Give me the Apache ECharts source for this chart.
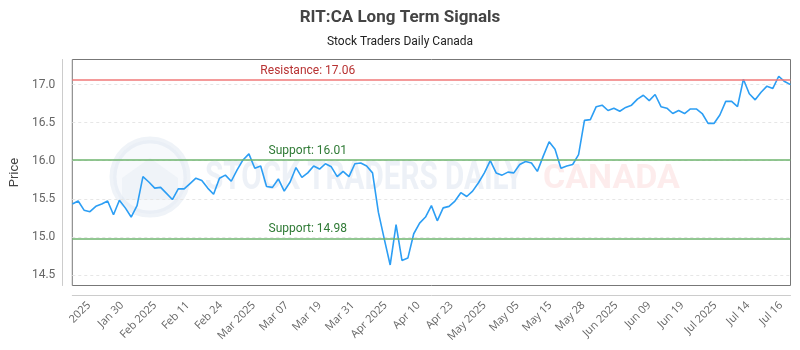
<!DOCTYPE html>
<html lang="en">
	<head>
		<meta charset="UTF-8" />
		<title>RIT:CA Long Term Signals</title>
		<style>
			html, body { margin: 0; padding: 0; background: #fff; }
		</style>
	</head>
	<body>
		<div id="main" style="width: 800px; height: 350px"></div>
		<script src="https://cdn.jsdelivr.net/npm/echarts@6/dist/echarts.min.js"></script>
		<script>
			// trading days shown on the chart
			var dates = [
				"2025-01-22", "2025-01-23", "2025-01-24", "2025-01-27", "2025-01-28", "2025-01-29", "2025-01-30", "2025-01-31",
				"2025-02-03", "2025-02-04", "2025-02-05", "2025-02-06", "2025-02-07", "2025-02-10", "2025-02-11", "2025-02-12",
				"2025-02-13", "2025-02-14", "2025-02-18", "2025-02-19", "2025-02-20", "2025-02-21", "2025-02-24", "2025-02-25",
				"2025-02-26", "2025-02-27", "2025-02-28",
				"2025-03-03", "2025-03-04", "2025-03-05", "2025-03-06", "2025-03-07", "2025-03-10", "2025-03-11", "2025-03-12",
				"2025-03-13", "2025-03-14", "2025-03-17", "2025-03-18", "2025-03-19", "2025-03-20", "2025-03-21", "2025-03-24",
				"2025-03-25", "2025-03-26", "2025-03-27", "2025-03-28", "2025-03-31",
				"2025-04-01", "2025-04-02", "2025-04-03", "2025-04-04", "2025-04-07", "2025-04-08", "2025-04-09", "2025-04-10",
				"2025-04-11", "2025-04-14", "2025-04-15", "2025-04-16", "2025-04-17", "2025-04-21", "2025-04-22", "2025-04-23",
				"2025-04-24", "2025-04-25", "2025-04-28", "2025-04-29", "2025-04-30",
				"2025-05-01", "2025-05-02", "2025-05-05", "2025-05-06", "2025-05-07", "2025-05-08", "2025-05-09", "2025-05-12",
				"2025-05-13", "2025-05-14", "2025-05-15", "2025-05-16", "2025-05-20", "2025-05-21", "2025-05-22", "2025-05-23",
				"2025-05-26", "2025-05-27", "2025-05-28", "2025-05-29", "2025-05-30",
				"2025-06-02", "2025-06-03", "2025-06-04", "2025-06-05", "2025-06-06", "2025-06-09", "2025-06-10", "2025-06-11",
				"2025-06-12", "2025-06-13", "2025-06-16", "2025-06-17", "2025-06-18", "2025-06-19", "2025-06-20", "2025-06-23",
				"2025-06-24", "2025-06-25", "2025-06-26", "2025-06-27", "2025-06-30",
				"2025-07-02", "2025-07-03", "2025-07-04", "2025-07-07", "2025-07-08", "2025-07-09", "2025-07-10", "2025-07-11",
				"2025-07-14", "2025-07-15", "2025-07-16", "2025-07-17",
			];

			// closing prices
			var prices = [
				15.43, 15.47, 15.35, 15.33, 15.40, 15.43, 15.47, 15.29, 15.48, 15.38,
				15.26, 15.41, 15.79, 15.72, 15.64, 15.65, 15.57, 15.49, 15.63, 15.63,
				15.70, 15.77, 15.74, 15.64, 15.56, 15.77, 15.81, 15.73, 15.88, 16.01,
				16.09, 15.90, 15.93, 15.66, 15.65, 15.76, 15.60, 15.72, 15.91, 15.78,
				15.84, 15.93, 15.89, 15.96, 15.92, 15.79, 15.86, 15.79, 15.96, 15.97,
				15.93, 15.84, 15.32, 14.97, 14.63, 15.16, 14.69, 14.72, 15.04, 15.18,
				15.26, 15.41, 15.21, 15.38, 15.40, 15.47, 15.58, 15.53, 15.60, 15.71,
				15.84, 16.00, 15.84, 15.81, 15.85, 15.84, 15.95, 15.99, 15.97, 15.86,
				16.06, 16.25, 16.15, 15.90, 15.93, 15.95, 16.08, 16.53, 16.54, 16.71,
				16.73, 16.66, 16.69, 16.65, 16.70, 16.73, 16.81, 16.86, 16.79, 16.87,
				16.71, 16.69, 16.62, 16.66, 16.62, 16.68, 16.68, 16.62, 16.49, 16.49,
				16.60, 16.78, 16.78, 16.71, 17.07, 16.88, 16.80, 16.90, 16.98, 16.95,
				17.11, 17.04, 17.00,
			];

			// x axis labels as printed under the chart
			var tickLabels = [
				"2025", "Jan 30", "Feb 2025", "Feb 11", "Feb 24", "Mar 2025", "Mar 07", "Mar 19",
				"Mar 31", "Apr 2025", "Apr 10", "Apr 23", "May 2025", "May 05", "May 15", "May 28",
				"Jun 2025", "Jun 09", "Jun 19", "Jul 2025", "Jul 14", "Jul 16",
			];

			// signal levels
			var resistance = 17.06;
			var supports = [16.01, 14.98];

			var myChart = echarts.init(document.getElementById("main"));

			var labelSpan = 80; // index span the level labels are centred on

			function levelLines() {
				var red = "rgba(240, 120, 120, 0.75)";
				var green = "rgba(110, 180, 110, 0.75)";
				var out = [];
				var levels = [{ v: resistance, txt: "Resistance: ", line: red, col: "#b83232" }];
				supports.forEach(function (s) {
					levels.push({ v: s, txt: "Support: ", line: green, col: "#2f7a35" });
				});
				levels.forEach(function (l) {
					out.push({
						yAxis: l.v,
						lineStyle: { color: l.line, width: 2, type: "solid" },
						label: { show: false },
					});
					var lab = {
						show: true,
						position: "insideMiddleTop",
						distance: 3,
						formatter: l.txt + l.v.toFixed(2),
						color: l.col,
						fontSize: 12,
						fontFamily: "Roboto",
					};
					var hidden = { color: "rgba(0,0,0,0)", width: 0 };
					out.push([
						{ coord: [0, l.v], lineStyle: hidden, label: lab },
						{ coord: [labelSpan, l.v], lineStyle: hidden, label: lab },
					]);
				});
				return out;
			}

			var option = {
				animation: false,
				title: [
					{
						text: "RIT:CA Long Term Signals",
						left: "center",
						top: 4,
						textStyle: { fontSize: 17, fontWeight: "bold", color: "#444", fontFamily: "Roboto" },
					},
					{
						text: "Stock Traders Daily Canada",
						left: "center",
						top: 31,
						textStyle: { fontSize: 12, fontWeight: "normal", color: "#222", fontFamily: "Roboto" },
					},
				],
				graphic: [
					// faint watermark behind the plot
					{
						type: "circle",
						z: -10,
						shape: { cx: 150, cy: 177, r: 37 },
						style: { fill: "rgba(228, 234, 244, 0.3)", stroke: "rgba(215, 224, 238, 0.4)", lineWidth: 7 },
					},
					{
						type: "polygon",
						z: -10,
						shape: { points: [[122, 200], [122, 178], [150, 158], [178, 178], [178, 200]] },
						style: { fill: "rgba(220, 228, 240, 0.3)" },
					},
					{
						type: "text",
						z: -10,
						left: 205,
						top: 160,
						scaleX: 0.78,
						style: {
							text: "STOCK TRADERS DAILY",
							font: "bold 38px Roboto",
							fill: "rgba(215, 224, 238, 0.45)",
						},
					},
					{
						type: "text",
						z: -10,
						left: 543,
						top: 162,
						style: {
							text: "CANADA",
							font: "bold 34px Roboto",
							fill: "rgba(250, 200, 200, 0.35)",
						},
					},
				],
				grid: [
					{ left: 69.5, right: 9.5, top: 59.5, bottom: 64.5, show: true, borderColor: "#777", borderWidth: 1 },
					{ left: 72.5, right: 2.5, top: 59.5, bottom: 64.5 },
				],
				xAxis: [
					{
						type: "category",
						gridIndex: 0,
						data: dates,
						boundaryGap: false,
						offset: 10,
						axisLine: { show: true, lineStyle: { color: "#ccc" } },
						axisTick: { show: false },
						axisLabel: { show: false },
						splitLine: { show: false },
					},
					{
						type: "category",
						gridIndex: 1,
						data: tickLabels,
						boundaryGap: true,
						offset: 10,
						axisLine: { show: false },
						axisTick: { show: false },
						axisLabel: {
							interval: 0,
							rotate: 45,
							margin: 8,
							fontSize: 11,
							color: "#666",
							fontFamily: "Open Sans",
						},
					},
				],
				yAxis: [
					{
						type: "value",
						gridIndex: 0,
						min: 14.36,
						max: 17.33,
						splitNumber: 5,
						offset: 10,
						name: "Price",
						nameLocation: "middle",
						nameGap: 38,
						nameTextStyle: { fontSize: 13, color: "#444", fontFamily: "Roboto" },
						axisLine: { show: true, lineStyle: { color: "#ccc" } },
						axisTick: { show: false },
						axisLabel: {
							showMinLabel: false,
							showMaxLabel: false,
							margin: 7,
							fontSize: 12,
							color: "#666",
							fontFamily: "Roboto",
							formatter: function (v) {
								return v.toFixed(1);
							},
						},
						splitLine: {
							showMinLine: false,
							showMaxLine: false,
							lineStyle: { type: [3, 3], color: "#e6e6e6" },
						},
					},
					{ type: "value", gridIndex: 1, show: false },
				],
				series: [
					{
						name: "RIT:CA",
						type: "line",
						xAxisIndex: 0,
						yAxisIndex: 0,
						data: prices,
						showSymbol: false,
						lineStyle: { color: "#2c9ef4", width: 1.6 },
						itemStyle: { color: "#2c9ef4" },
						markLine: {
							silent: true,
							symbol: "none",
							data: levelLines(),
						},
					},
				],
			};

			myChart.setOption(option);
		</script>
	</body>
</html>
